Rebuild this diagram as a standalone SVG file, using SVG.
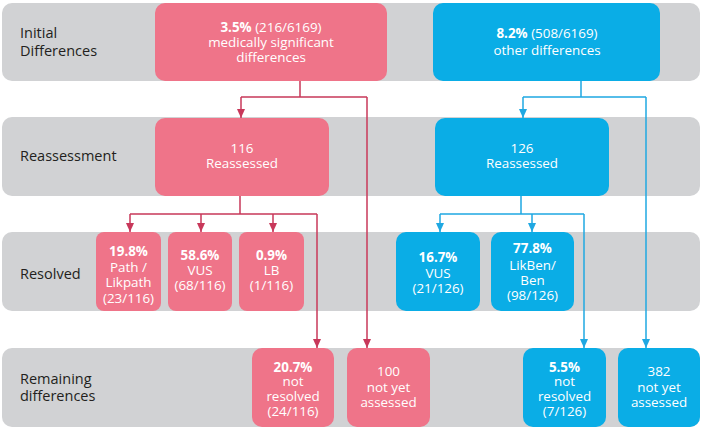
<svg xmlns="http://www.w3.org/2000/svg" width="704" height="430" viewBox="0 0 704 430">
<defs>
<style>
.band{fill:#D1D2D4}
.pk{fill:#EF7489}
.bl{fill:#0AADE6}
.lbl{font-family:"Open Sans","Liberation Sans",sans-serif;font-size:14.5px;fill:#231F20}
.t{font-family:"Open Sans","Liberation Sans",sans-serif;font-size:13.4px;fill:#FFFFFF;text-anchor:middle}
.b{font-weight:700}
.cp{fill:none;stroke:#C8385A;stroke-width:1.5}
.cb{fill:none;stroke:#1FA8E2;stroke-width:1.5}
</style>
<marker id="ap" markerWidth="10" markerHeight="8" refX="9" refY="4" orient="auto" markerUnits="userSpaceOnUse"><path d="M0,0 L9,4 L0,8 Z" fill="#C8385A"/></marker>
<marker id="ab" markerWidth="10" markerHeight="8" refX="9" refY="4" orient="auto" markerUnits="userSpaceOnUse"><path d="M0,0 L9,4 L0,8 Z" fill="#1FA8E2"/></marker>
</defs>
<rect width="704" height="430" fill="#FFFFFF"/>
<g id="bands">
<rect class="band" x="2" y="3" width="698" height="78" rx="10"/>
<rect class="band" x="2" y="117" width="698" height="79" rx="10"/>
<rect class="band" x="2" y="232" width="698" height="79" rx="10"/>
<rect class="band" x="2" y="348" width="698" height="79" rx="10"/>
</g>
<g id="row-labels">
<text class="lbl" x="20" y="38">Initial</text>
<text class="lbl" x="20" y="56">Differences</text>
<text class="lbl" x="20" y="161">Reassessment</text>
<text class="lbl" x="20" y="279">Resolved</text>
<text class="lbl" x="20" y="384">Remaining</text>
<text class="lbl" x="20" y="401">differences</text>
</g>
<g id="connectors">
<path class="cp" d="M300,81 V97 M241,97 H367"/>
<path class="cp" d="M241,97 V118" marker-end="url(#ap)"/>
<path class="cp" d="M367,97 V348" marker-end="url(#ap)"/>
<path class="cp" d="M240,196 V214 M130,214 H317"/>
<path class="cp" d="M130,214 V232" marker-end="url(#ap)"/>
<path class="cp" d="M201,214 V232" marker-end="url(#ap)"/>
<path class="cp" d="M273,214 V232" marker-end="url(#ap)"/>
<path class="cp" d="M317,214 V348" marker-end="url(#ap)"/>
<path class="cb" d="M581,81 V97 M523,97 H646"/>
<path class="cb" d="M523,97 V118" marker-end="url(#ab)"/>
<path class="cb" d="M646,97 V348" marker-end="url(#ab)"/>
<path class="cb" d="M521,196 V214 M440,214 H584"/>
<path class="cb" d="M440,214 V232" marker-end="url(#ab)"/>
<path class="cb" d="M532,214 V232" marker-end="url(#ab)"/>
<path class="cb" d="M584,214 V348" marker-end="url(#ab)"/>
</g>
<g id="init-med">
<rect class="pk" x="155" y="3" width="232" height="78" rx="10"/>
<text class="t" x="271" y="32"><tspan class="b">3.5%</tspan> (216/6169)</text>
<text class="t" x="271" y="47">medically significant</text>
<text class="t" x="271" y="62">differences</text>
</g>
<g id="init-other">
<rect class="bl" x="433" y="3" width="227" height="78" rx="10"/>
<text class="t" x="547" y="38"><tspan class="b">8.2%</tspan> (508/6169)</text>
<text class="t" x="547" y="55">other differences</text>
</g>
<g id="reass-med">
<rect class="pk" x="155" y="118" width="174" height="78" rx="10"/>
<text class="t" x="242" y="153">116</text>
<text class="t" x="242" y="168">Reassessed</text>
</g>
<g id="reass-other">
<rect class="bl" x="435" y="118" width="174" height="78" rx="10"/>
<text class="t" x="522" y="153">126</text>
<text class="t" x="522" y="168">Reassessed</text>
</g>
<g id="res-path">
<rect class="pk" x="96" y="232" width="65" height="79" rx="8"/>
<text class="t b" x="128.5" y="256">19.8%</text>
<text class="t" x="128.5" y="271.5">Path /</text>
<text class="t" x="128.5" y="287">Likpath</text>
<text class="t" x="128.5" y="302.5">(23/116)</text>
</g>
<g id="res-vus-med">
<rect class="pk" x="168" y="232" width="64" height="79" rx="8"/>
<text class="t b" x="200" y="260">58.6%</text>
<text class="t" x="200" y="275">VUS</text>
<text class="t" x="200" y="290">(68/116)</text>
</g>
<g id="res-lb">
<rect class="pk" x="239" y="232" width="65" height="79" rx="8"/>
<text class="t b" x="271.5" y="260">0.9%</text>
<text class="t" x="271.5" y="275">LB</text>
<text class="t" x="271.5" y="290">(1/116)</text>
</g>
<g id="res-vus-other">
<rect class="bl" x="396" y="232" width="84" height="79" rx="10"/>
<text class="t b" x="438" y="262">16.7%</text>
<text class="t" x="438" y="278">VUS</text>
<text class="t" x="438" y="293">(21/126)</text>
</g>
<g id="res-likben">
<rect class="bl" x="491" y="232" width="83" height="79" rx="10"/>
<text class="t b" x="532.5" y="253">77.8%</text>
<text class="t" x="532.5" y="270">LikBen/</text>
<text class="t" x="532.5" y="285">Ben</text>
<text class="t" x="532.5" y="300">(98/126)</text>
</g>
<g id="rem-med-notres">
<rect class="pk" x="252" y="348" width="82" height="79" rx="10"/>
<text class="t b" x="293" y="372">20.7%</text>
<text class="t" x="293" y="386">not</text>
<text class="t" x="293" y="401">resolved</text>
<text class="t" x="293" y="416">(24/116)</text>
</g>
<g id="rem-med-notyet">
<rect class="pk" x="347" y="348" width="83" height="79" rx="10"/>
<text class="t" x="388.5" y="376">100</text>
<text class="t" x="388.5" y="392">not yet</text>
<text class="t" x="388.5" y="407">assessed</text>
</g>
<g id="rem-other-notres">
<rect class="bl" x="523" y="348" width="83" height="79" rx="10"/>
<text class="t b" x="564.5" y="372">5.5%</text>
<text class="t" x="564.5" y="386">not</text>
<text class="t" x="564.5" y="401">resolved</text>
<text class="t" x="564.5" y="416">(7/126)</text>
</g>
<g id="rem-other-notyet">
<rect class="bl" x="618" y="348" width="82" height="79" rx="10"/>
<text class="t" x="659" y="376">382</text>
<text class="t" x="659" y="392">not yet</text>
<text class="t" x="659" y="407">assessed</text>
</g>
</svg>
